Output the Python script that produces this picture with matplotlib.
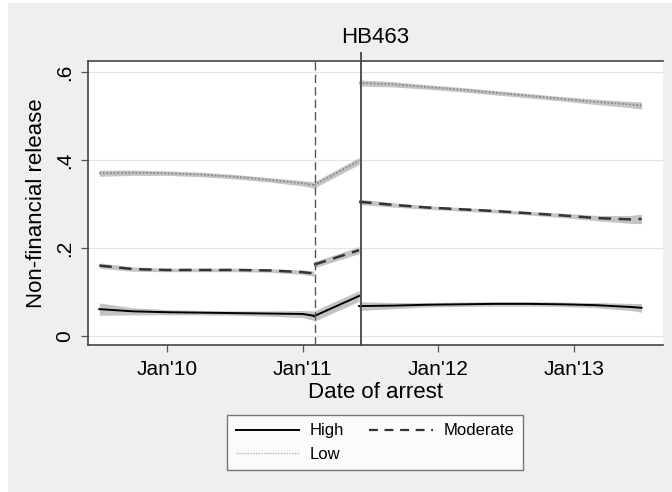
import matplotlib
matplotlib.use("Agg")
import matplotlib.pyplot as plt
from matplotlib.lines import Line2D
import numpy as np

plt.rcParams['font.family'] = ['Liberation Sans', 'DejaVu Sans']

# months relative to Jan 2010
MONTH_PRE = [-6, -3, 0, 3, 6, 9, 12, 13]
MONTH_MID = [13, 17]
MONTH_POST = [17, 20, 23, 26, 29, 32, 35, 38, 41, 42]

# Low risk
LOW_PRE = [0.370, 0.371, 0.370, 0.367, 0.362, 0.355, 0.347, 0.343]
LOW_PRE_CI = [0.007, 0.006, 0.005, 0.005, 0.005, 0.005, 0.006, 0.007]
LOW_MID = [0.343, 0.398]
LOW_MID_CI = [0.007, 0.008]
LOW_POST = [0.575, 0.572, 0.566, 0.560, 0.553, 0.546, 0.539, 0.532, 0.526, 0.524]
LOW_POST_CI = [0.007, 0.006, 0.005, 0.005, 0.005, 0.005, 0.005, 0.006, 0.007, 0.008]

# Moderate risk
MOD_PRE = [0.160, 0.152, 0.150, 0.150, 0.150, 0.149, 0.145, 0.142]
MOD_PRE_CI = [0.006, 0.005, 0.004, 0.004, 0.004, 0.004, 0.005, 0.006]
MOD_MID = [0.162, 0.195]
MOD_MID_CI = [0.007, 0.008]
MOD_POST = [0.305, 0.298, 0.292, 0.288, 0.284, 0.279, 0.274, 0.268, 0.265, 0.266]
MOD_POST_CI = [0.006, 0.005, 0.004, 0.004, 0.004, 0.004, 0.005, 0.006, 0.009, 0.011]

# High risk
HIGH_PRE = [0.061, 0.056, 0.054, 0.053, 0.052, 0.051, 0.050, 0.046]
HIGH_PRE_CI = [0.014, 0.008, 0.006, 0.005, 0.005, 0.006, 0.008, 0.011]
HIGH_MID = [0.045, 0.091]
HIGH_MID_CI = [0.012, 0.012]
HIGH_POST = [0.068, 0.069, 0.071, 0.072, 0.073, 0.073, 0.072, 0.070, 0.066, 0.064]
HIGH_POST_CI = [0.010, 0.007, 0.005, 0.005, 0.005, 0.005, 0.005, 0.006, 0.008, 0.010]

XTICKS = [0, 12, 24, 36]
XTICKLABELS = ["Jan'10", "Jan'11", "Jan'12", "Jan'13"]
YTICKS = [0, 0.2, 0.4, 0.6]
YTICKLABELS = ["0", ".2", ".4", ".6"]
CUTOFF_DASHED = 13.1
CUTOFF_SOLID = 17.2

BG = '#efefef'
BAND = '#c4c4c4'

fig = plt.figure(figsize=(6.72, 4.92), dpi=100)
fig.patch.set_facecolor('white')
fig.patches.append(plt.Rectangle((8/672, 0), 1, 1 - 3/492, transform=fig.transFigure,
                                 facecolor=BG, edgecolor='none', zorder=-10))
ax = fig.add_axes([88/672, 1 - 345/492, (663 - 88)/672, (345 - 61)/492])
ax.set_facecolor('white')

segments = [
    (MONTH_PRE, LOW_PRE, LOW_PRE_CI, MOD_PRE, MOD_PRE_CI, HIGH_PRE, HIGH_PRE_CI),
    (MONTH_MID, LOW_MID, LOW_MID_CI, MOD_MID, MOD_MID_CI, HIGH_MID, HIGH_MID_CI),
    (MONTH_POST, LOW_POST, LOW_POST_CI, MOD_POST, MOD_POST_CI, HIGH_POST, HIGH_POST_CI),
]

for m, lo, lo_ci, md, md_ci, hi, hi_ci in segments:
    m = np.array(m)
    for y, ci in [(lo, lo_ci), (md, md_ci), (hi, hi_ci)]:
        y = np.array(y)
        ci = np.array(ci)
        ax.fill_between(m, y - ci, y + ci, color=BAND, lw=0, zorder=2)
    ax.plot(m, lo, color='#8a8a8a', lw=1.3, ls=(0, (1, 1)), zorder=3)
    ax.plot(m, md, color='#333333', lw=1.8, ls=(0, (5, 3)), zorder=3)
    ax.plot(m, hi, color='black', lw=1.4, zorder=3)

ax.axvline(CUTOFF_DASHED, color='#555555', lw=1.0, ls=(0, (6, 3)), zorder=4)
ax.plot([CUTOFF_SOLID, CUTOFF_SOLID], [-0.0205, 0.643], color='#444444', lw=1.3,
        zorder=4, clip_on=False)

ax.set_xlim(-7, 43.9)
ax.set_ylim(-0.0205, 0.625)
for yt in YTICKS:
    ax.axhline(yt, color='#e4e4e4', lw=0.9, zorder=1)

ax.set_xticks(XTICKS)
ax.set_xticklabels(XTICKLABELS, fontsize=15)
ax.set_yticks(YTICKS)
ax.set_yticklabels(YTICKLABELS, fontsize=15, rotation=90, va='center')
ax.tick_params(axis='both', direction='out', length=5, width=0.9, color='#555555')
ax.tick_params(axis='x', pad=6)
ax.tick_params(axis='y', pad=5)

for s in ['left', 'top', 'bottom']:
    ax.spines[s].set_color('#444444')
    ax.spines[s].set_linewidth(1.2)
ax.spines['right'].set_visible(False)

ax.set_xlabel("Date of arrest", fontsize=16, labelpad=2)
ax.set_ylabel("Non-financial release", fontsize=16, labelpad=6)
ax.set_title("HB463", fontsize=16, pad=13)

handles = [Line2D([], [], color='black', lw=1.4),
           Line2D([], [], color='#b5b5b5', lw=1.0, ls=(0, (1, 1))),
           Line2D([], [], color='#333333', lw=1.6, ls=(0, (4, 3)))]
labels = ['High', 'Low', 'Moderate']
leg = fig.legend(handles, labels, ncol=2, loc='center',
                 bbox_to_anchor=(375/672, 1 - 442.5/492), fontsize=12,
                 frameon=True, fancybox=False, edgecolor='#555555', facecolor='white',
                 handlelength=3.8, handletextpad=0.65, columnspacing=1.5,
                 labelspacing=0.5, borderpad=0.5)
leg.get_frame().set_linewidth(1.0)

fig.savefig('out.png', dpi=100, facecolor=fig.get_facecolor())
